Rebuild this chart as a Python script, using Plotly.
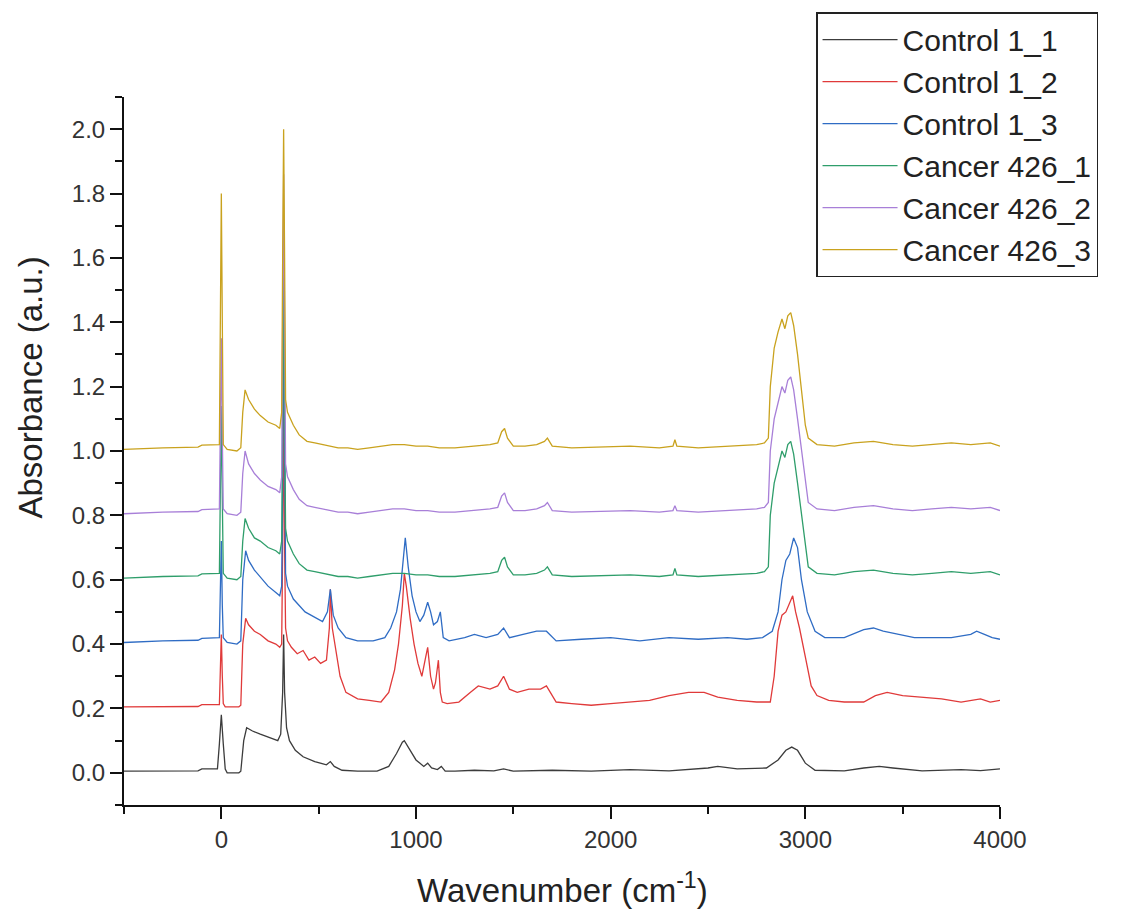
import plotly.graph_objects as go

# series names and colours (Origin-style stacked spectra)
names = ['Control 1_1', 'Control 1_2', 'Control 1_3',
         'Cancer 426_1', 'Cancer 426_2', 'Cancer 426_3']
colors = ['#3c3c3c', '#e03a3a', '#2f6cc4', '#2f9e6b', '#a87fd8', '#c9a21e']

# Control 1_1
wn_c11 = [-500, -300, -120, -100, -20, -10, 0, 10, 20, 30,
          90, 100, 115, 130, 160, 200, 250, 290, 305, 315,
          320, 325, 335, 350, 380, 420, 480, 540, 560, 580,
          620, 700, 800, 860, 900, 930, 940, 960, 1000, 1040,
          1060, 1080, 1110, 1130, 1150, 1200, 1300, 1400, 1450, 1500,
          1700, 1900, 2100, 2300, 2500, 2550, 2650, 2800, 2860, 2900,
          2930, 2960, 3000, 3050, 3200, 3300, 3380, 3450, 3600, 3800,
          3900, 4000]
ab_c11 = [0.005, 0.005, 0.006, 0.012, 0.012, 0.09, 0.18, 0.09, 0.012, 0.0,
          0.0, 0.005, 0.10, 0.14, 0.13, 0.12, 0.11, 0.10, 0.12, 0.25,
          0.43, 0.25, 0.14, 0.10, 0.07, 0.05, 0.035, 0.025, 0.035, 0.02,
          0.008, 0.005, 0.005, 0.02, 0.06, 0.095, 0.10, 0.08, 0.04, 0.02,
          0.03, 0.015, 0.01, 0.02, 0.005, 0.005, 0.008, 0.006, 0.012, 0.005,
          0.008, 0.005, 0.01, 0.006, 0.015, 0.02, 0.012, 0.015, 0.04, 0.07,
          0.08, 0.07, 0.03, 0.008, 0.006, 0.015, 0.02, 0.015, 0.006, 0.01,
          0.007, 0.012]

# Control 1_2
wn_c12 = [-500, -300, -120, -100, -10, -5, 0, 5, 10, 20,
          90, 100, 110, 125, 140, 170, 200, 240, 280, 300,
          310, 315, 320, 325, 330, 340, 360, 390, 420, 450,
          480, 510, 540, 555, 560, 570, 590, 610, 640, 700,
          760, 820, 860, 890, 910, 930, 940, 950, 970, 990,
          1010, 1030, 1050, 1060, 1075, 1090, 1100, 1115, 1125, 1135,
          1160, 1220, 1280, 1320, 1380, 1420, 1450, 1480, 1520, 1580,
          1640, 1670, 1690, 1720, 1800, 1900, 2000, 2100, 2200, 2300,
          2400, 2480, 2550, 2650, 2750, 2820, 2840, 2860, 2880, 2900,
          2920, 2935, 2950, 2970, 3000, 3030, 3060, 3120, 3200, 3300,
          3360, 3420, 3500, 3600, 3700, 3800, 3850, 3900, 3950, 4000]
ab_c12 = [0.205, 0.205, 0.206, 0.212, 0.212, 0.32, 0.43, 0.30, 0.215, 0.205,
          0.205, 0.21, 0.40, 0.48, 0.46, 0.44, 0.43, 0.41, 0.40, 0.39,
          0.40, 0.70, 1.18, 0.70, 0.45, 0.41, 0.39, 0.37, 0.38, 0.35,
          0.36, 0.34, 0.35, 0.45, 0.57, 0.45, 0.37, 0.30, 0.25, 0.23,
          0.225, 0.22, 0.25, 0.32, 0.40, 0.52, 0.62, 0.58, 0.48, 0.40,
          0.34, 0.30, 0.36, 0.39, 0.30, 0.26, 0.28, 0.35, 0.25, 0.22,
          0.215, 0.22, 0.25, 0.27, 0.26, 0.27, 0.30, 0.26, 0.25, 0.26,
          0.26, 0.27, 0.25, 0.22, 0.215, 0.21, 0.215, 0.22, 0.225, 0.24,
          0.25, 0.25, 0.235, 0.225, 0.22, 0.22, 0.30, 0.44, 0.49, 0.50,
          0.53, 0.55, 0.50, 0.45, 0.36, 0.27, 0.24, 0.225, 0.22, 0.22,
          0.24, 0.25, 0.24, 0.235, 0.23, 0.22, 0.225, 0.23, 0.22, 0.225]

# Control 1_3
wn_c13 = [-500, -300, -120, -100, -10, -5, 0, 5, 10, 30,
          80, 100, 110, 125, 140, 170, 200, 240, 280, 300,
          310, 315, 320, 325, 330, 340, 370, 400, 430, 460,
          490, 520, 545, 560, 575, 600, 640, 700, 780, 840,
          870, 900, 920, 935, 945, 960, 980, 1000, 1020, 1040,
          1060, 1075, 1090, 1110, 1125, 1140, 1170, 1250, 1300, 1360,
          1420, 1450, 1480, 1550, 1620, 1670, 1720, 1850, 2000, 2150,
          2300, 2450, 2600, 2700, 2780, 2830, 2860, 2880, 2900, 2920,
          2940, 2960, 2980, 3010, 3050, 3100, 3200, 3300, 3350, 3400,
          3480, 3560, 3650, 3750, 3850, 3880, 3920, 3960, 4000]
ab_c13 = [0.405, 0.41, 0.412, 0.418, 0.42, 0.55, 0.72, 0.52, 0.42, 0.405,
          0.40, 0.41, 0.60, 0.69, 0.66, 0.63, 0.61, 0.58, 0.56, 0.55,
          0.58, 0.90, 1.50, 0.90, 0.62, 0.58, 0.54, 0.52, 0.50, 0.49,
          0.48, 0.47, 0.50, 0.57, 0.49, 0.45, 0.42, 0.41, 0.41, 0.42,
          0.45, 0.50, 0.57, 0.68, 0.73, 0.64, 0.55, 0.50, 0.47, 0.49,
          0.53, 0.50, 0.46, 0.47, 0.50, 0.42, 0.41, 0.42, 0.43, 0.42,
          0.43, 0.45, 0.42, 0.43, 0.44, 0.44, 0.41, 0.415, 0.42, 0.41,
          0.42, 0.415, 0.42, 0.415, 0.42, 0.44, 0.50, 0.60, 0.66, 0.68,
          0.73, 0.70, 0.60, 0.50, 0.44, 0.42, 0.42, 0.445, 0.45, 0.44,
          0.43, 0.42, 0.42, 0.42, 0.43, 0.44, 0.43, 0.42, 0.415]

# Cancer 426_1
wn_k1 = [-500, -300, -120, -100, -10, -5, 0, 5, 10, 30,
         80, 100, 110, 122, 140, 170, 200, 240, 280, 300,
         310, 315, 320, 325, 330, 340, 370, 400, 440, 480,
         520, 560, 600, 650, 700, 760, 820, 880, 940, 1000,
         1060, 1120, 1200, 1300, 1380, 1420, 1440, 1455, 1470, 1500,
         1560, 1620, 1660, 1675, 1700, 1800, 1950, 2100, 2250, 2320,
         2330, 2340, 2450, 2600, 2750, 2790, 2810, 2820, 2840, 2860,
         2880, 2895, 2910, 2925, 2940, 2960, 2980, 3000, 3015, 3060,
         3150, 3250, 3350, 3450, 3550, 3650, 3750, 3850, 3950, 4000]
ab_k1 = [0.605, 0.61, 0.612, 0.618, 0.62, 0.85, 1.14, 0.85, 0.62, 0.605,
         0.60, 0.61, 0.72, 0.79, 0.76, 0.73, 0.72, 0.70, 0.69, 0.68,
         0.72, 1.10, 1.69, 1.10, 0.76, 0.72, 0.68, 0.65, 0.63, 0.625,
         0.62, 0.615, 0.61, 0.61, 0.605, 0.61, 0.615, 0.62, 0.62, 0.615,
         0.615, 0.61, 0.61, 0.615, 0.62, 0.625, 0.66, 0.67, 0.64, 0.615,
         0.615, 0.62, 0.63, 0.64, 0.615, 0.61, 0.612, 0.615, 0.61, 0.615,
         0.635, 0.615, 0.61, 0.615, 0.62, 0.625, 0.64, 0.80, 0.90, 0.95,
         1.00, 0.98, 1.02, 1.03, 0.99, 0.90, 0.80, 0.70, 0.64, 0.62,
         0.615, 0.625, 0.63, 0.62, 0.615, 0.62, 0.625, 0.62, 0.625, 0.615]

# Cancer 426_2
wn_k2 = [-500, -300, -120, -100, -10, -5, 0, 5, 10, 30,
         80, 100, 110, 122, 140, 170, 200, 240, 280, 300,
         310, 315, 320, 325, 330, 340, 370, 400, 440, 480,
         520, 560, 600, 650, 700, 760, 820, 880, 940, 1000,
         1060, 1120, 1200, 1300, 1380, 1420, 1440, 1455, 1470, 1500,
         1560, 1620, 1660, 1675, 1700, 1800, 1950, 2100, 2250, 2320,
         2330, 2340, 2450, 2600, 2750, 2790, 2810, 2820, 2840, 2860,
         2880, 2895, 2910, 2925, 2940, 2960, 2980, 3000, 3015, 3060,
         3150, 3250, 3350, 3450, 3550, 3650, 3750, 3850, 3950, 4000]
ab_k2 = [0.805, 0.81, 0.812, 0.818, 0.82, 1.05, 1.35, 1.05, 0.82, 0.805,
         0.80, 0.81, 0.93, 1.00, 0.96, 0.93, 0.91, 0.89, 0.88, 0.87,
         0.92, 1.40, 1.86, 1.40, 0.96, 0.92, 0.88, 0.85, 0.83, 0.825,
         0.82, 0.815, 0.81, 0.81, 0.805, 0.81, 0.815, 0.82, 0.82, 0.815,
         0.815, 0.81, 0.81, 0.815, 0.82, 0.825, 0.86, 0.87, 0.84, 0.815,
         0.815, 0.82, 0.83, 0.84, 0.815, 0.81, 0.812, 0.815, 0.81, 0.815,
         0.83, 0.815, 0.81, 0.815, 0.82, 0.825, 0.84, 1.00, 1.10, 1.15,
         1.20, 1.18, 1.22, 1.23, 1.19, 1.10, 1.00, 0.90, 0.84, 0.82,
         0.815, 0.825, 0.83, 0.82, 0.815, 0.82, 0.825, 0.82, 0.825, 0.815]

# Cancer 426_3
wn_k3 = [-500, -300, -120, -100, -10, -5, 0, 5, 10, 30,
         80, 100, 110, 122, 140, 170, 200, 240, 280, 300,
         310, 315, 320, 325, 330, 340, 370, 400, 440, 480,
         520, 560, 600, 650, 700, 760, 820, 880, 940, 1000,
         1060, 1120, 1200, 1300, 1380, 1420, 1440, 1455, 1470, 1500,
         1560, 1620, 1660, 1675, 1700, 1800, 1950, 2100, 2250, 2320,
         2330, 2340, 2450, 2600, 2750, 2790, 2810, 2820, 2840, 2860,
         2880, 2895, 2910, 2925, 2940, 2960, 2980, 3000, 3015, 3060,
         3150, 3250, 3350, 3450, 3550, 3650, 3750, 3850, 3950, 4000]
ab_k3 = [1.005, 1.01, 1.012, 1.018, 1.02, 1.40, 1.80, 1.40, 1.02, 1.005,
         1.00, 1.01, 1.12, 1.19, 1.16, 1.13, 1.11, 1.09, 1.08, 1.07,
         1.12, 1.60, 2.00, 1.60, 1.16, 1.12, 1.08, 1.05, 1.03, 1.025,
         1.02, 1.015, 1.01, 1.01, 1.005, 1.01, 1.015, 1.02, 1.02, 1.015,
         1.015, 1.01, 1.01, 1.015, 1.02, 1.025, 1.06, 1.07, 1.04, 1.015,
         1.015, 1.02, 1.03, 1.04, 1.015, 1.01, 1.012, 1.015, 1.01, 1.015,
         1.035, 1.015, 1.01, 1.015, 1.02, 1.025, 1.04, 1.20, 1.32, 1.37,
         1.41, 1.38, 1.42, 1.43, 1.39, 1.30, 1.18, 1.08, 1.04, 1.02,
         1.015, 1.025, 1.03, 1.02, 1.015, 1.02, 1.025, 1.02, 1.025, 1.015]

wavenumbers = [wn_c11, wn_c12, wn_c13, wn_k1, wn_k2, wn_k3]
absorbance = [ab_c11, ab_c12, ab_c13, ab_k1, ab_k2, ab_k3]

x_ticks = [0, 1000, 2000, 3000, 4000]
y_ticks = [0.0, 0.2, 0.4, 0.6, 0.8, 1.0, 1.2, 1.4, 1.6, 1.8, 2.0]

fig = go.Figure()
for name, col, wn, ab in zip(names, colors, wavenumbers, absorbance):
    fig.add_trace(go.Scatter(x=wn, y=ab, mode='lines', name=name,
                             line=dict(color=col, width=1.3)))

font_family = 'Liberation Sans, Arial, sans-serif'
fig.update_layout(
    width=1125, height=917,
    # page body adds 8px, so the margins are shifted back by that much
    margin=dict(l=116, r=133, t=89, b=120, autoexpand=False),
    plot_bgcolor='white', paper_bgcolor='white',
    font=dict(family=font_family, color='#333333'),
    showlegend=True,
    legend=dict(x=0.79, y=1.12, xanchor='left', yanchor='top',
                bordercolor='#222222', borderwidth=1.5, bgcolor='white',
                font=dict(size=30, color='#222222'),
                tracegroupgap=0, itemwidth=75),
)
fig.update_xaxes(range=[-500, 4000], tickvals=x_ticks,
                 showgrid=False, zeroline=False,
                 showline=True, linecolor='#111111', linewidth=2,
                 ticks='outside', ticklen=12, tickwidth=2, tickcolor='#111111',
                 minor=dict(dtick=500, tick0=0, ticks='outside', ticklen=7,
                            tickwidth=2, tickcolor='#111111'),
                 tickfont=dict(size=24, color='#333333'))
fig.update_yaxes(range=[-0.1, 2.1], tickvals=y_ticks, tickformat='.1f',
                 showgrid=False, zeroline=False,
                 showline=True, linecolor='#111111', linewidth=2,
                 ticks='outside', ticklen=12, tickwidth=2, tickcolor='#111111',
                 minor=dict(dtick=0.1, tick0=0, ticks='outside', ticklen=7,
                            tickwidth=2, tickcolor='#111111'),
                 tickfont=dict(size=24, color='#333333'))

# axis titles placed as in the source figure
fig.add_annotation(text='Wavenumber (cm<sup>-1</sup>)', xref='paper', yref='paper',
                   x=0.5, y=-0.117, xanchor='center', yanchor='middle',
                   showarrow=False, font=dict(size=33, color='#222222'))
fig.add_annotation(text='Absorbance (a.u.)', xref='paper', yref='paper',
                   x=-0.107, y=0.59, xanchor='center', yanchor='middle',
                   textangle=-90, showarrow=False,
                   font=dict(size=33, color='#222222'))

fig.write_html("out.html")
